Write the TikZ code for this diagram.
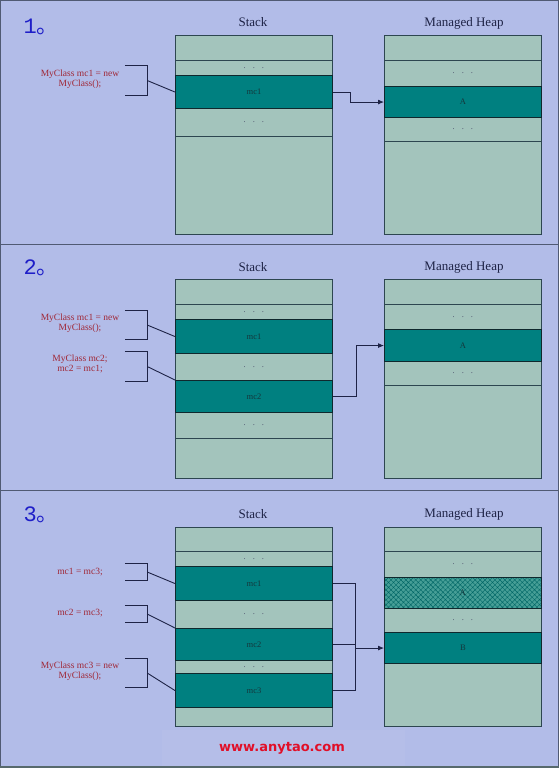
\documentclass[tikz,border=0pt]{standalone}
\usepackage{fontspec}
\setmainfont{Liberation Serif}
\newfontfamily\cjk{Noto Sans CJK SC}
\newfontfamily\numfont{Liberation Mono}
\newfontfamily\webfont{DejaVu Sans}
\usepackage{tikz}
\usetikzlibrary{arrows.meta, positioning, patterns.meta}

\definecolor{bgc}{RGB}{178,188,232}
\definecolor{cellc}{RGB}{163,196,188}
\definecolor{hotc}{RGB}{0,128,128}
\definecolor{hatchc}{RGB}{70,158,150}
\definecolor{edgec}{RGB}{45,70,80}
\definecolor{darkedge}{RGB}{15,40,45}
\definecolor{hottext}{RGB}{20,55,60}
\definecolor{codec}{RGB}{160,40,55}
\definecolor{numc}{RGB}{30,30,200}
\definecolor{titlec}{RGB}{30,35,70}
\definecolor{framec}{RGB}{80,90,115}
\definecolor{webc}{RGB}{225,15,40}
\newcommand{\gapdots}{.\hspace{7pt}.\hspace{7pt}.}

\begin{document}
\begin{tikzpicture}[x=1pt, y=-1pt,
    cell/.style={rectangle, draw=edgec, line width=0.8pt, fill=cellc, minimum width=157pt, anchor=north west, inner sep=0pt, font=\fontsize{8.5}{9}\selectfont, text=titlec!80},
    hot/.style={cell, fill=hotc, draw=darkedge, line width=1.1pt, text=hottext},
    code/.style={text=codec, align=center, font=\fontsize{9.5}{10}\selectfont},
    brk/.style={rectangle, minimum width=22pt, inner sep=0pt},
    brkline/.style={draw=titlec, line width=0.9pt},
    ptr/.style={-{Latex[length=6pt,width=5pt]}, draw=titlec, line width=0.8pt},
    wire/.style={draw=titlec, line width=0.8pt},
    title/.style={font=\fontsize{13}{15}\selectfont, text=titlec},
    num/.style={anchor=west, text=numc, font=\fontsize{22}{24}\selectfont}]
    \useasboundingbox (0,0) rectangle (559,768);
    \fill[bgc] (0,0) rectangle (559,768);
    \fill[white, opacity=0.04] (162,730) rectangle (405,766);

    % panel 1
    \node[num] (n1) at (20,27) {{\numfont 1}{\cjk 。}};
    \node[title] (st1) at (253,22) {Stack};
    \node[title] (hp1) at (464,23) {Managed Heap};
    \node[cell, minimum height=25pt] (sa1) at (175,35) {};
    \node[cell, minimum height=15pt] (sa2) at (175,60) {\gapdots};
    \node[cell, minimum height=28pt] (sa3) at (175,108) {\gapdots};
    \node[cell, minimum height=98pt] (sa4) at (175,136) {};
    \node[hot, minimum height=33pt] (mc1a) at (175,75) {mc1};
    \node[cell, minimum height=25pt] (ha1) at (384,35) {};
    \node[cell, minimum height=26pt] (ha2) at (384,60) {\gapdots};
    \node[cell, minimum height=24pt] (ha3) at (384,117) {\gapdots};
    \node[cell, minimum height=93pt] (ha4) at (384,141) {};
    \node[hot, minimum height=31pt] (Aa) at (384,86) {A};
    \node[code] (c1a) at (80,79) {MyClass mc1 = new\\MyClass();};
    \node[brk, minimum height=29pt] (k1a) at (136,80.5) {};
    \draw[brkline] (k1a.north west) -- (k1a.north east) -- (k1a.south east) -- (k1a.south west);
    \draw[brkline] (k1a.east) -- (mc1a.west);
    \draw[ptr] (mc1a.east) -- ++(17,0) |- (Aa.west);

    % panel 2
    \node[num] (n2) at (20,268) {{\numfont 2}{\cjk 。}};
    \node[title] (st2) at (253,267) {Stack};
    \node[title] (hp2) at (464,267) {Managed Heap};
    \node[cell, minimum height=25pt] (sb1) at (175,279) {};
    \node[cell, minimum height=15pt] (sb2) at (175,304) {\gapdots};
    \node[cell, minimum height=27pt] (sb3) at (175,353) {\gapdots};
    \node[cell, minimum height=26pt] (sb4) at (175,412) {\gapdots};
    \node[cell, minimum height=40pt] (sb5) at (175,438) {};
    \node[hot, minimum height=34pt] (mc1b) at (175,319) {mc1};
    \node[hot, minimum height=32pt] (mc2b) at (175,380) {mc2};
    \node[cell, minimum height=25pt] (hb1) at (384,279) {};
    \node[cell, minimum height=25pt] (hb2) at (384,304) {\gapdots};
    \node[cell, minimum height=24pt] (hb3) at (384,361) {\gapdots};
    \node[cell, minimum height=93pt] (hb4) at (384,385) {};
    \node[hot, minimum height=32pt] (Ab) at (384,329) {A};
    \node[code] (c1b) at (80,323) {MyClass mc1 = new\\MyClass();};
    \node[brk, minimum height=28pt] (k1b) at (136,325) {};
    \draw[brkline] (k1b.north west) -- (k1b.north east) -- (k1b.south east) -- (k1b.south west);
    \draw[brkline] (k1b.east) -- (mc1b.west);
    \node[code] (c2b) at (80,364) {MyClass mc2;\\mc2 = mc1;};
    \node[brk, minimum height=29pt] (k2b) at (136,366.5) {};
    \draw[brkline] (k2b.north west) -- (k2b.north east) -- (k2b.south east) -- (k2b.south west);
    \draw[brkline] (k2b.east) -- (mc2b.north west);
    \draw[ptr] (mc2b.east) -- ++(23,0) |- (Ab.west);

    % panel 3
    \node[num] (n3) at (20,515) {{\numfont 3}{\cjk 。}};
    \node[title] (st3) at (253,514) {Stack};
    \node[title] (hp3) at (464,514) {Managed Heap};
    \node[cell, minimum height=24pt] (sc1) at (175,527) {};
    \node[cell, minimum height=15pt] (sc2) at (175,551) {\gapdots};
    \node[cell, minimum height=28pt] (sc3) at (175,600) {\gapdots};
    \node[cell, minimum height=13pt] (sc4) at (175,660) {\gapdots};
    \node[cell, minimum height=19pt] (sc5) at (175,707) {};
    \node[hot, minimum height=34pt] (mc1c) at (175,566) {mc1};
    \node[hot, minimum height=32pt] (mc2c) at (175,628) {mc2};
    \node[hot, minimum height=34pt] (mc3c) at (175,673) {mc3};
    \node[cell, minimum height=24pt] (hc1) at (384,527) {};
    \node[cell, minimum height=26pt] (hc2) at (384,551) {\gapdots};
    \node[cell, minimum height=24pt] (hc3) at (384,608) {\gapdots};
    \node[cell, minimum height=63pt] (hc4) at (384,663) {};
    \node[hot, minimum height=31pt, fill=none, preaction={fill=hatchc},
          pattern={Hatch[angle=45, distance=3.5pt, line width=0.4pt]}, pattern color=hotc!80!black] (Ac) at (384,577) {A};
    \node[hot, minimum height=31pt] (Bc) at (384,632) {B};
    \node[code] (c1c) at (80,572) {mc1 = mc3;};
    \node[brk, minimum height=16pt] (k1c) at (136,572) {};
    \draw[brkline] (k1c.north west) -- (k1c.north east) -- (k1c.south east) -- (k1c.south west);
    \draw[brkline] (k1c.east) -- (mc1c.west);
    \node[code] (c2c) at (80,613) {mc2 = mc3;};
    \node[brk, minimum height=16pt] (k2c) at (136,614) {};
    \draw[brkline] (k2c.north west) -- (k2c.north east) -- (k2c.south east) -- (k2c.south west);
    \draw[brkline] (k2c.east) -- (mc2c.north west);
    \node[code] (c3c) at (80,671) {MyClass mc3 = new\\MyClass();};
    \node[brk, minimum height=28pt] (k3c) at (136,673) {};
    \draw[brkline] (k3c.north west) -- (k3c.north east) -- (k3c.south east) -- (k3c.south west);
    \draw[brkline] (k3c.east) -- (mc3c.west);
    \draw[wire] (mc1c.east) -- ++(22,0) |- (mc3c.east);
    \draw[wire] (mc2c.east) -- ++(22,0) coordinate (jc);
    \draw[ptr] (jc |- Bc.west) -- (Bc.west);

    \node[text=webc, font=\webfont\bfseries\fontsize{13}{15}\selectfont] (web) at (282,748) {www.anytao.com};

    % frame
    \draw[framec, line width=1pt] (0,244) -- (559,244);
    \draw[framec, line width=1pt] (0,490) -- (559,490);
    \draw[framec, line width=2pt] (0,0) rectangle (559,768);
    \draw[darkedge!70, line width=2pt] (0,767) -- (559,767);
\end{tikzpicture}
\end{document}
